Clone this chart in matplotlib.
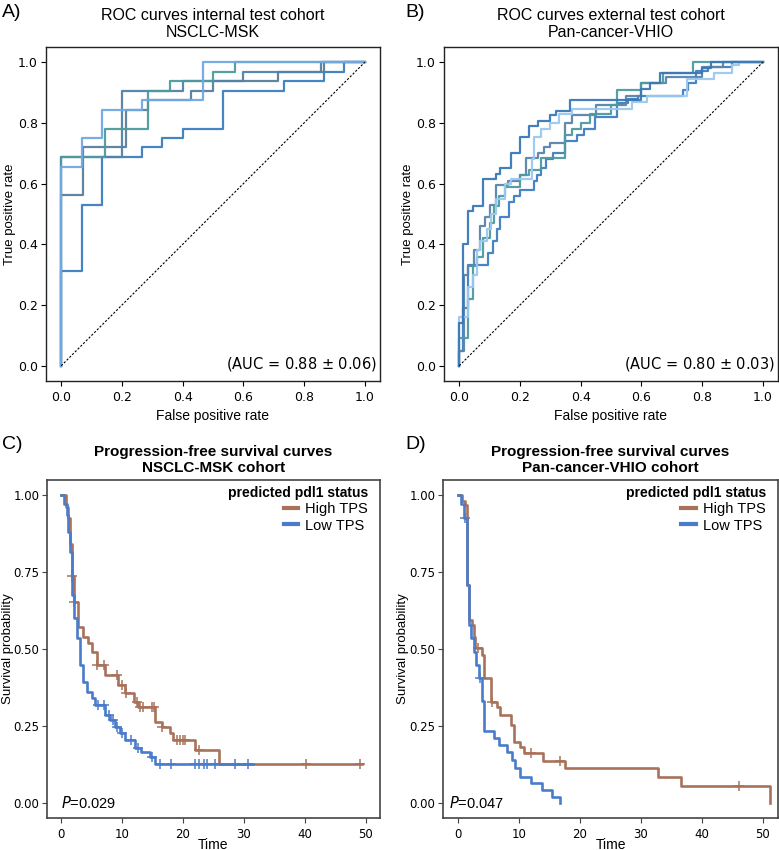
import numpy as np
import matplotlib.pyplot as plt

plt.rcParams['font.family'] = 'DejaVu Sans'
SANS = ['Liberation Sans', 'DejaVu Sans']

# ROC curves: fpr where the curve steps up, tpr after the step
roc_a_fpr = [
    [0, 0, 0.067, 0.133, 0.267, 0.333, 0.4, 0.533, 0.733, 0.867, 0.933, 1.0],
    [0, 0, 0.071, 0.214, 0.286, 0.429, 0.5, 0.714, 0.867, 1.0],
    [0, 0, 0.2, 0.4, 0.6, 0.857, 1.0],
    [0, 0, 0.143, 0.286, 0.357, 0.5, 0.571, 1.0],
    [0, 0, 0.067, 0.133, 0.267, 0.467, 1.0],
]
roc_a_tpr = [
    [0, 0.3125, 0.53, 0.6875, 0.72, 0.75, 0.78, 0.906, 0.9375, 0.969, 1.0, 1.0],
    [0, 0.5625, 0.72, 0.844, 0.875, 0.906, 0.9375, 0.969, 1.0, 1.0],
    [0, 0.6875, 0.906, 0.9375, 0.969, 1.0, 1.0],
    [0, 0.6875, 0.78, 0.906, 0.9375, 0.969, 1.0, 1.0],
    [0, 0.656, 0.75, 0.844, 0.875, 1.0, 1.0],
]
roc_a_colors = ['#3C7DBF', '#5A7E9A', '#5381A8', '#4D9A9E', '#72A8E3']

roc_b_fpr = [
    [0, 0, 0.014, 0.03, 0.096, 0.11, 0.125, 0.135, 0.165, 0.18, 0.2, 0.245, 0.256,
     0.27, 0.285, 0.31, 0.35, 0.387, 0.41, 0.447, 0.52, 0.557, 0.59, 0.738, 0.755,
     0.78, 0.82, 0.9, 1.0],
    [0, 0, 0.015, 0.03, 0.05, 0.07, 0.085, 0.1, 0.12, 0.16, 0.2, 0.22, 0.26, 0.28,
     0.3, 0.35, 0.37, 0.45, 0.55, 0.6, 0.68, 0.8, 0.87, 1.0],
    [0, 0, 0.03, 0.045, 0.06, 0.08, 0.1, 0.115, 0.13, 0.15, 0.2, 0.23, 0.27, 0.35,
     0.37, 0.4, 0.43, 0.5, 0.52, 0.6, 0.67, 0.77, 1.0],
    [0, 0, 0.03, 0.045, 0.06, 0.07, 0.09, 0.105, 0.12, 0.15, 0.17, 0.24, 0.245,
     0.27, 0.3, 0.33, 0.37, 0.57, 0.62, 0.75, 0.84, 0.9, 0.92, 1.0],
    [0, 0, 0.014, 0.03, 0.047, 0.077, 0.12, 0.135, 0.17, 0.2, 0.23, 0.26, 0.3,
     0.32, 0.365, 0.6, 0.63, 0.66, 0.8, 0.83, 1.0],
]
roc_b_tpr = [
    [0, 0.05, 0.19, 0.333, 0.37, 0.41, 0.45, 0.49, 0.54, 0.56, 0.58, 0.61, 0.63,
     0.65, 0.68, 0.70, 0.74, 0.76, 0.78, 0.82, 0.865, 0.88, 0.89, 0.91, 0.93,
     0.97, 0.985, 1.0, 1.0],
    [0, 0.05, 0.30, 0.33, 0.38, 0.46, 0.49, 0.53, 0.595, 0.61, 0.63, 0.685, 0.70,
     0.72, 0.735, 0.80, 0.825, 0.86, 0.89, 0.93, 0.95, 0.985, 1.0, 1.0],
    [0, 0.09, 0.22, 0.33, 0.36, 0.42, 0.47, 0.525, 0.56, 0.59, 0.63, 0.645, 0.685,
     0.76, 0.78, 0.80, 0.83, 0.86, 0.91, 0.93, 0.965, 1.0, 1.0],
    [0, 0.16, 0.26, 0.30, 0.38, 0.41, 0.45, 0.50, 0.55, 0.60, 0.615, 0.68, 0.755,
     0.78, 0.80, 0.83, 0.845, 0.87, 0.89, 0.945, 0.965, 0.99, 1.0, 1.0],
    [0, 0.14, 0.40, 0.51, 0.527, 0.614, 0.632, 0.65, 0.70, 0.755, 0.79, 0.807,
     0.825, 0.84, 0.877, 0.912, 0.93, 0.965, 0.982, 1.0, 1.0],
]
roc_b_colors = ['#3F7FC0', '#5B84AA', '#4C9AA0', '#9CC8EF', '#3B78B6']

# Kaplan-Meier curves: event times and survival after each drop
km_c_high_t = [0, 0.8, 1.2, 1.5, 1.86, 2.19, 2.73, 3.66, 4.5, 5.0, 5.85, 7.2, 9.4,
               10.5, 11.9, 12.7, 15.4, 16.5, 17.9, 18.4, 22.0, 25.9]
km_c_high_s = [1.0, 0.96, 0.925, 0.84, 0.738, 0.652, 0.572, 0.54, 0.519, 0.49,
               0.448, 0.415, 0.383, 0.357, 0.329, 0.313, 0.264, 0.248, 0.226,
               0.205, 0.172, 0.127]
km_c_high_end = 49.3
km_c_high_cens = [1.86, 2.19, 5.85, 7.0, 9.2, 10.0, 10.6, 12.5, 13.0, 13.4, 14.9,
                  15.2, 16.6, 19.0, 19.5, 20.0, 20.4, 22.6, 40.2, 49.1]

km_c_low_t = [0, 0.5, 0.93, 1.2, 1.48, 1.86, 2.2, 2.57, 3.1, 3.66, 4.2, 5.0, 5.58,
              7.2, 8.0, 8.9, 9.7, 10.5, 12.1, 13.1, 14.6, 15.4]
km_c_low_s = [1.0, 0.97, 0.935, 0.88, 0.816, 0.675, 0.6, 0.535, 0.448, 0.394,
              0.361, 0.34, 0.318, 0.286, 0.27, 0.248, 0.226, 0.205, 0.178, 0.167,
              0.15, 0.127]
km_c_low_end = 31.5
km_c_low_cens = [6.0, 7.0, 7.8, 8.5, 9.2, 10.0, 11.5, 12.7, 14.9, 16.2, 18.0,
                 21.9, 22.6, 23.4, 23.9, 25.3, 28.5, 30.6]

km_d_high_t = [0, 0.6, 1.1, 1.48, 1.75, 2.3, 2.56, 2.84, 3.93, 4.2, 5.46, 6.4,
               6.94, 8.7, 9.1, 10.2, 10.8, 13.9, 17.5, 32.8, 36.5, 51.1]
km_d_high_s = [1.0, 0.98, 0.968, 0.708, 0.594, 0.578, 0.54, 0.502, 0.48, 0.405,
               0.329, 0.312, 0.286, 0.253, 0.199, 0.183, 0.161, 0.136, 0.113,
               0.083, 0.055, 0.0]
km_d_high_end = 51.1
km_d_high_cens = [3.3, 5.6, 11.9, 16.8, 46.0]

km_d_low_t = [0, 0.5, 0.93, 1.48, 1.86, 2.2, 2.57, 2.95, 3.4, 3.9, 4.2, 5.85, 6.7,
              8.0, 8.85, 9.4, 10.2, 11.9, 13.8, 15.4, 16.8]
km_d_low_s = [1.0, 0.97, 0.924, 0.708, 0.578, 0.535, 0.491, 0.448, 0.405, 0.33,
              0.232, 0.21, 0.188, 0.167, 0.14, 0.113, 0.085, 0.064, 0.042, 0.02,
              0.0]
km_d_low_end = 16.8
km_d_low_cens = [1.2, 3.66]

HIGH_COL = '#A8725A'
LOW_COL = '#4A7CCB'

fig = plt.figure(figsize=(7.79, 8.5), dpi=100)
W, H = 779.0, 850.0
ax_a = fig.add_axes([46 / W, 1 - 381 / H, 334 / W, 334 / H])
ax_b = fig.add_axes([444 / W, 1 - 381 / H, 334 / W, 334 / H])
ax_c = fig.add_axes([47 / W, 1 - 818 / H, 333 / W, 338 / H])
ax_d = fig.add_axes([443 / W, 1 - 818 / H, 335 / W, 338 / H])


def draw_roc(ax, fprs, tprs, colors, title, auc_text):
    for f, t, c in zip(fprs, tprs, colors):
        ax.plot(f, t, drawstyle='steps-post', color=c, lw=1.6, alpha=0.95)
    ax.plot([0, 1], [0, 1], color='black', lw=0.8, ls=(0, (2, 1.5)))
    ax.set_xlim(-0.05, 1.05)
    ax.set_ylim(-0.05, 1.05)
    ax.set_xticks(np.arange(0, 1.01, 0.2))
    ax.set_yticks(np.arange(0, 1.01, 0.2))
    ax.tick_params(labelsize=9, length=3.5, width=0.8)
    ax.tick_params(axis='y', pad=2.5)
    for s in ax.spines.values():
        s.set_linewidth(1.0)
        s.set_color('#222222')
    ax.set_xlabel('False positive rate', family=SANS, fontsize=10)
    ax.set_ylabel('True positive rate', family=SANS, fontsize=9.5)
    ax.yaxis.set_label_coords(-0.09, 0.5)
    ax.set_title(title, family=SANS, fontsize=11.5, pad=7, linespacing=1.15)
    ax.text(0.992, 0.025, auc_text, transform=ax.transAxes, ha='right',
            va='bottom', fontsize=10.5)


def step_value(t, s, x):
    i = np.searchsorted(t, x, side='right') - 1
    return np.asarray(s)[i]


def draw_km(ax, curves, title, ptext, px, xlim):
    for t, s, end, cens, col, lab in curves:
        tt = list(t) + [end]
        ss = list(s) + [s[-1]]
        ax.plot(tt, ss, drawstyle='steps-post', color=col, lw=1.9, label=lab)
        ax.plot(cens, step_value(t, s, cens), ls='none', marker='+',
                ms=7, mew=1.1, color=col)
    ax.set_xlim(*xlim)
    ax.set_ylim(-0.049, 1.049)
    ax.set_xticks([0, 10, 20, 30, 40, 50])
    ax.set_yticks([0, 0.25, 0.5, 0.75, 1.0])
    ax.set_yticklabels(['0.00', '0.25', '0.50', '0.75', '1.00'])
    ax.tick_params(labelsize=8.5, length=3.5, width=0.8, color='#444444')
    ax.tick_params(axis='y', pad=2)
    for s in ax.spines.values():
        s.set_linewidth(1.2)
        s.set_color('#444444')
    ax.set_xlabel('Time', family=SANS, fontsize=10)
    ax.xaxis.set_label_coords(0.5, -0.058)
    ax.set_ylabel('Survival probability', family=SANS, fontsize=9.5)
    ax.yaxis.set_label_coords(-0.1, 0.5)
    ax.set_title(title, family=SANS, fontsize=11, fontweight='bold', pad=6,
                 linespacing=1.15)
    ax.text(px, 0.0, ptext, ha='left', va='center', family=SANS, fontsize=10.5)
    leg = ax.legend(title='predicted pdl1 status', loc='upper right',
                    bbox_to_anchor=(0.995, 1.012), frameon=False,
                    prop={'family': SANS, 'size': 10.5},
                    title_fontproperties={'family': SANS, 'size': 10,
                                          'weight': 'bold'},
                    handlelength=1.0, handletextpad=0.5, labelspacing=0.15,
                    borderpad=0.2, alignment='right')
    for h in leg.legend_handles:
        h.set_linewidth(3)


draw_roc(ax_a, roc_a_fpr, roc_a_tpr, roc_a_colors,
         'ROC curves internal test cohort\nNSCLC-MSK',
         '(AUC = 0.88 $\\pm$ 0.06)')
draw_roc(ax_b, roc_b_fpr, roc_b_tpr, roc_b_colors,
         'ROC curves external test cohort\nPan-cancer-VHIO',
         '(AUC = 0.80 $\\pm$ 0.03)')

draw_km(ax_c, [
    (km_c_high_t, km_c_high_s, km_c_high_end, km_c_high_cens, HIGH_COL, 'High TPS'),
    (km_c_low_t, km_c_low_s, km_c_low_end, km_c_low_cens, LOW_COL, 'Low TPS'),
], 'Progression-free survival curves\nNSCLC-MSK cohort',
    '$\\it{P}$=0.029', 0.0, (-2.3, 52.3))
draw_km(ax_d, [
    (km_d_high_t, km_d_high_s, km_d_high_end, km_d_high_cens, HIGH_COL, 'High TPS'),
    (km_d_low_t, km_d_low_s, km_d_low_end, km_d_low_cens, LOW_COL, 'Low TPS'),
], 'Progression-free survival curves\nPan-cancer-VHIO cohort',
    '$\\it{P}$=0.047', -1.5, (-2.46, 52.46))

for lab, x, y in [('A)', 2, 4), ('B)', 405, 4), ('C)', 2, 436), ('D)', 405, 436)]:
    fig.text(x / W, 1 - y / H, lab, ha='left', va='top', family=SANS, fontsize=14)

fig.savefig('out.png', dpi=100)
